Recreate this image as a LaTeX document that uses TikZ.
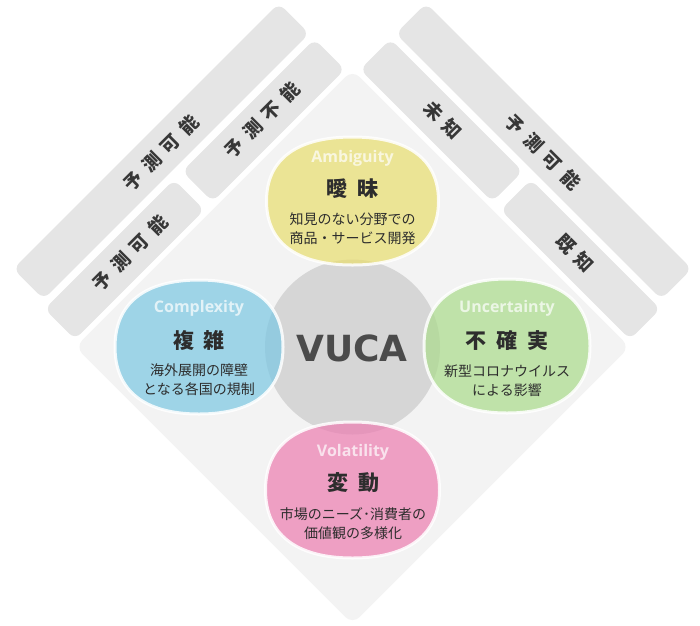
\documentclass[tikz,border=0pt]{standalone}
\usepackage{fontspec}
\newfontfamily\jp{Noto Sans CJK JP}
\newfontfamily\en{Open Sans}
\newfontfamily\vu{DejaVu Sans}
\definecolor{dia}{RGB}{243,243,243}
\definecolor{barc}{RGB}{229,229,229}
\definecolor{bartext}{RGB}{55,55,55}
\definecolor{core}{RGB}{214,214,214}
\definecolor{vuca}{RGB}{75,75,75}
\definecolor{txt}{RGB}{45,45,45}
\definecolor{cy}{RGB}{233,222,110}
\definecolor{cb}{RGB}{122,199,227}
\definecolor{cg}{RGB}{170,219,139}
\definecolor{cp}{RGB}{236,124,176}
\newcommand\gapa{\hspace{7.5pt}}
\newcommand\gapb{\hspace{10pt}}
\newcommand\blobshape[5]{%
  \path[#5] ({#1+#3},#2) .. controls ({#1+#3},{#2+0.65*#4}) and ({#1+0.65*#3},{#2+#4}) .. (#1,{#2+#4})
    .. controls ({#1-0.65*#3},{#2+#4}) and ({#1-#3},{#2+0.65*#4}) .. ({#1-#3},#2)
    .. controls ({#1-#3},{#2-0.65*#4}) and ({#1-0.65*#3},{#2-#4}) .. (#1,{#2-#4})
    .. controls ({#1+0.65*#3},{#2-#4}) and ({#1+#3},{#2-0.65*#4}) .. ({#1+#3},#2) -- cycle;}
\tikzset{
  barbox/.style={fill=barc, draw=none, rounded corners=8pt, minimum height=43pt, inner sep=0pt},
  bartxt/.style={font=\jp\bfseries\fontsize{18.5}{18.5}\selectfont, text=bartext, inner sep=0pt},
  blobfill/.style={fill=#1, fill opacity=0.7, draw=white, draw opacity=0.85, line width=3pt},
  entxt/.style={font=\en\bfseries\fontsize{16}{16}\selectfont, text=white, text opacity=0.7, inner sep=0pt},
  ttltxt/.style={font=\jp\bfseries\fontsize{21}{21}\selectfont, text=txt, inner sep=0pt},
  desctxt/.style={font=\jp\fontsize{14}{14}\selectfont, text=txt, inner sep=0pt},
}
\begin{document}
\begin{tikzpicture}[x=1pt,y=-1pt]
\useasboundingbox (0,0) rectangle (700,625);
% background diamond
\node[fill=dia, draw=none, rotate=45, minimum size=392pt, rounded corners=10pt, inner sep=0pt] (diamond) at (352.5,347) {};
% bars upper left
\node[barbox, rotate=45, minimum width=375.5pt] (barLO) at (161.25,151.25) {};
\node[barbox, rotate=45, minimum width=183pt] (barLA) at (124.5,259.5) {};
\node[barbox, rotate=45, minimum width=187pt] (barLB) at (263.6,120.4) {};
% bars upper right
\node[barbox, rotate=-45, minimum width=375.5pt] (barRO) at (543.75,151.25) {};
\node[barbox, rotate=-45, minimum width=187pt] (barRA) at (441.4,120.4) {};
\node[barbox, rotate=-45, minimum width=183pt] (barRB) at (580.5,259.5) {};
% bar labels
\node[bartxt, rotate=45] (tLO) at (161,153) {予\gapa 測\gapa 可\gapa 能};
\node[bartxt, rotate=45] (tLA) at (130,253) {予\gapa 測\gapa 可\gapa 能};
\node[bartxt, rotate=45] (tLB) at (262,120) {予\gapa 測\gapa 不\gapa 能};
\node[bartxt, rotate=-45] (tRO) at (543,152) {予\gapa 測\gapa 可\gapa 能};
\node[bartxt, rotate=-45] (tRA) at (443,120) {未\gapa 知};
\node[bartxt, rotate=-45] (tRB) at (575,253) {既\gapa 知};
% core circle
\node[circle, fill=core, draw=none, minimum size=175pt, inner sep=0pt] (core) at (352.5,347) {};
% blobs
\blobshape{352.5}{201}{86}{64}{blobfill=cy}
\blobshape{199}{347}{84}{67}{blobfill=cb}
\blobshape{507}{346}{83}{67}{blobfill=cg}
\blobshape{352.5}{490}{87}{68}{blobfill=cp}
% center label
\node[font=\vu\bfseries\fontsize{36}{36}\selectfont, text=vuca, inner sep=0pt] (vucalabel) at (352,348) {VUCA};
% Ambiguity
\node[entxt] (enA) at (352.5,158) {Ambiguity};
\node[ttltxt] (jpA) at (352.5,189) {曖\gapb 昧};
\node[desctxt] (dA1) at (352.5,219) {知見のない分野での};
\node[desctxt] (dA2) at (352.5,238) {商品・サービス開発};
% Complexity
\node[entxt] (enC) at (199,308) {Complexity};
\node[ttltxt] (jpC) at (199,340) {複\gapb 雑};
\node[desctxt] (dC1) at (199,370) {海外展開の障壁};
\node[desctxt] (dC2) at (199,389) {となる各国の規制};
% Uncertainty
\node[entxt] (enU) at (507,308) {Uncertainty};
\node[ttltxt] (jpU) at (507,341) {不\gapb 確\gapb 実};
\node[desctxt] (dU1) at (507,371) {新型コロナウイルス};
\node[desctxt] (dU2) at (507,390) {による影響};
% Volatility
\node[entxt] (enV) at (353,452) {Volatility};
\node[ttltxt] (jpV) at (353,483) {変\gapb 動};
\node[desctxt] (dV1) at (353,514) {市場のニーズ･消費者の};
\node[desctxt] (dV2) at (353,533) {価値観の多様化};
\end{tikzpicture}
\end{document}
